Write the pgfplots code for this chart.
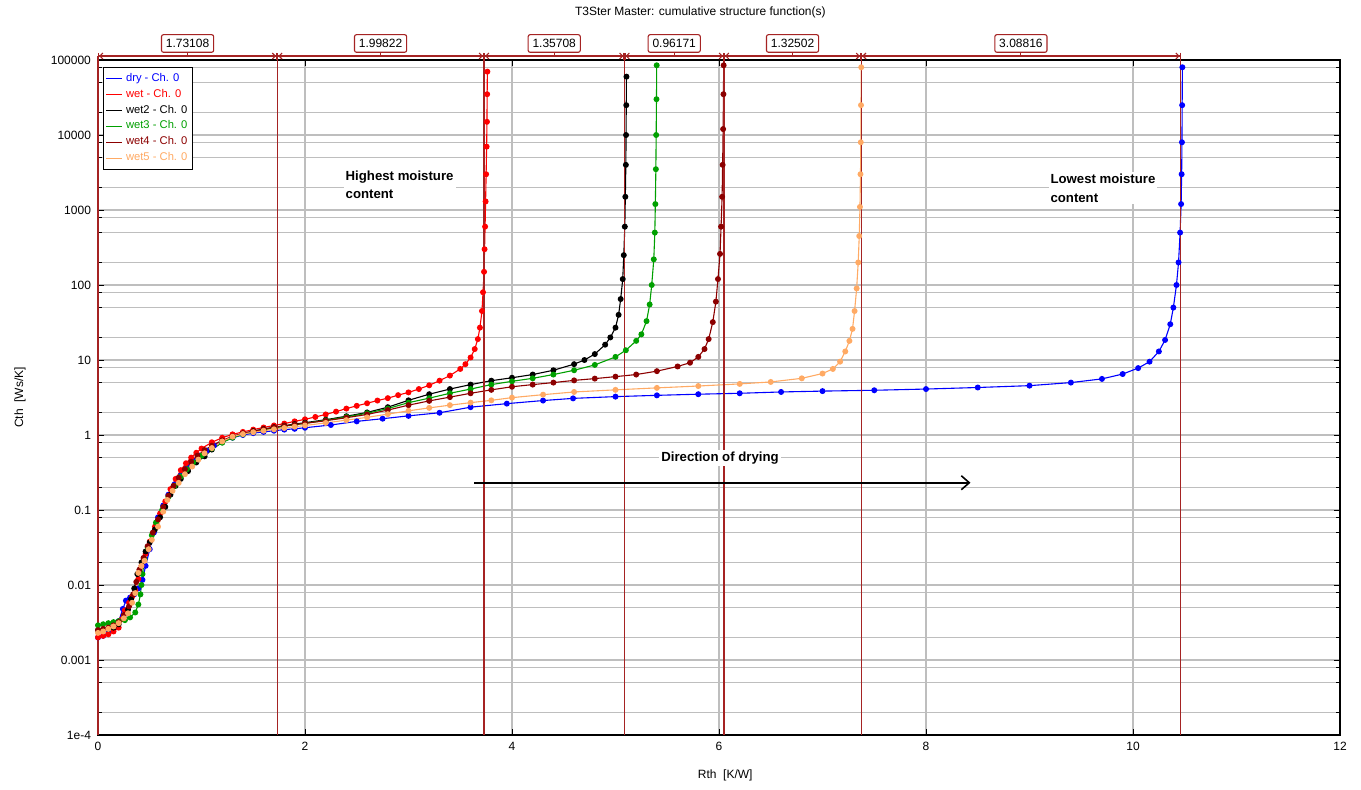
\documentclass[border=0pt]{standalone}
\usepackage{fontspec}
\setmainfont{Liberation Sans}
\usepackage{pgfplots}
\pgfplotsset{compat=1.18}
\usetikzlibrary{arrows.meta}
\definecolor{dimred}{RGB}{165,35,35}
\definecolor{gridgray}{RGB}{190,190,190}
\definecolor{cdry}{RGB}{0,0,255}
\definecolor{cwet}{RGB}{255,0,0}
\definecolor{cwettwo}{RGB}{0,0,0}
\definecolor{cwetthree}{RGB}{0,160,0}
\definecolor{cwetfour}{RGB}{140,0,0}
\definecolor{cwetfive}{RGB}{255,170,100}
\newcommand\fs{\fontsize{6}{7.2}\selectfont}
\newcommand\lfs{\fontsize{5.6}{6.5}\selectfont}
\newcommand\bfs{\bfseries\fontsize{6.6}{9.3}\selectfont}
\begin{document}
\begin{tikzpicture}
\useasboundingbox (-49pt,-27pt) rectangle (631.5pt,367.5pt);
\begin{axis}[
  at={(0pt,0pt)}, anchor=south west,
  scale only axis, width=621pt, height=337.5pt,
  xmin=0, xmax=12, ymode=log, ymin=1e-4, ymax=1e5,
  clip=false,
  /pgf/number format/assume math mode=true,
  xtick={0,2,4,6,8,10,12},
  ytick={1e-4,1e-3,0.01,0.1,1,10,100,1000,10000,100000},
  yticklabels={1e-4,0.001,0.01,0.1,1,10,100,1000,10000,100000},
  minor ytick={2e-4,5e-4,8e-4,2e-3,5e-3,8e-3,0.02,0.05,0.08,0.2,0.5,0.8,2,5,8,20,50,80,200,500,800,2000,5000,8000,20000,50000,80000},
  xmajorgrids, ymajorgrids, yminorgrids,
  major grid style={color=gridgray, line width=0.6pt},
  minor grid style={color=gridgray, line width=0.6pt},
  tick align=inside, major tick length=3pt, minor tick length=2pt,
  tick style={black, line width=0.5pt},
  axis line style={black, line width=0.6pt},
  tick label style={font=\fs},
  every axis title shift=0pt,
  title={T3Ster Master: cumulative structure function(s)},
  title style={at={(axis description cs:0.485,1.0711)}, anchor=center, font=\fs},
  xlabel={Rth\ \ [K/W]},
  xlabel style={at={(axis description cs:0.505,-0.0593)}, anchor=center, font=\fs},
  ylabel={Cth\ \ [Ws/K]},
  ylabel style={at={(axis description cs:-0.0628,0.5)}, anchor=center, font=\fs},
  legend style={at={(axis description cs:0.004,0.989)}, anchor=north west, draw=black, line width=0.5pt,
    font=\lfs, inner sep=1pt, row sep=-0.8pt, nodes={inner sep=1.6pt}, cells={anchor=west}},
  legend image code/.code={\draw[#1, mark=none, line width=0.7pt] (0pt,0pt) -- (8pt,0pt);},
  every axis plot/.append style={line width=0.55pt, mark=*, mark size=1.2pt},
]
% dry
\addplot[cdry, mark options={fill=cdry, draw=cdry}] coordinates {
(0,0.0020) (0.05,0.0021) (0.1,0.0023) (0.15,0.0026) (0.2,0.0033) (0.24,0.0048) (0.27,0.0062) (0.31,0.0068) (0.35,0.0075) (0.39,0.009) (0.43,0.0117) (0.46,0.018) (0.5,0.03) (0.54,0.05) (0.58,0.08) (0.63,0.115) (0.68,0.16) (0.74,0.22) (0.8,0.29) (0.86,0.37) (0.92,0.45) (0.98,0.53) (1.05,0.62) (1.12,0.72) (1.2,0.82) (1.3,0.92) (1.4,1.0) (1.5,1.06) (1.6,1.1) (1.7,1.14) (1.8,1.18) (1.9,1.21) (2.0,1.25) (2.25,1.36) (2.5,1.52) (2.75,1.65) (3.0,1.8) (3.3,1.98) (3.6,2.35) (3.95,2.62) (4.3,2.88) (4.59,3.08) (5.0,3.25) (5.4,3.38) (5.8,3.5) (6.2,3.6) (6.6,3.75) (7.0,3.85) (7.5,3.95) (8.0,4.1) (8.5,4.3) (9.0,4.55) (9.4,5.0) (9.7,5.6) (9.9,6.5) (10.05,7.8) (10.16,9.5) (10.25,13) (10.31,18.5) (10.36,30) (10.39,50) (10.42,100) (10.44,200) (10.455,500) (10.465,1200) (10.47,3000) (10.473,8000) (10.475,25000) (10.477,80000)};
\addlegendentry{\textcolor{cdry}{dry - Ch. 0}}
% wet
\addplot[cwet, mark options={fill=cwet, draw=cwet}] coordinates {
(0,0.0020) (0.05,0.0021) (0.1,0.0022) (0.15,0.0024) (0.2,0.0027) (0.23,0.0035) (0.26,0.0046) (0.3,0.0058) (0.33,0.007) (0.36,0.0085) (0.39,0.012) (0.42,0.018) (0.46,0.026) (0.5,0.038) (0.55,0.06) (0.6,0.09) (0.65,0.13) (0.7,0.19) (0.75,0.26) (0.8,0.34) (0.85,0.42) (0.9,0.5) (0.95,0.58) (1.0,0.66) (1.1,0.8) (1.2,0.92) (1.3,1.02) (1.4,1.1) (1.5,1.18) (1.6,1.26) (1.7,1.34) (1.8,1.42) (1.9,1.52) (2.0,1.62) (2.1,1.74) (2.2,1.88) (2.3,2.05) (2.4,2.25) (2.5,2.45) (2.6,2.65) (2.7,2.88) (2.8,3.1) (2.9,3.4) (3.0,3.7) (3.1,4.1) (3.2,4.6) (3.3,5.3) (3.4,6.2) (3.5,7.6) (3.55,8.8) (3.6,10.8) (3.64,14) (3.67,19) (3.69,27) (3.71,45) (3.72,80) (3.73,150) (3.735,300) (3.74,600) (3.745,1300) (3.75,3000) (3.755,7000) (3.758,15000) (3.76,35000) (3.762,70000)};
\addlegendentry{\textcolor{cwet}{wet - Ch. 0}}
% wet2
\addplot[cwettwo, mark options={fill=cwettwo, draw=cwettwo}] coordinates {
(0,0.0025) (0.05,0.0025) (0.1,0.0026) (0.15,0.0027) (0.2,0.003) (0.25,0.0036) (0.29,0.0047) (0.32,0.0065) (0.35,0.009) (0.38,0.014) (0.42,0.02) (0.46,0.028) (0.5,0.037) (0.55,0.055) (0.6,0.08) (0.65,0.11) (0.7,0.16) (0.75,0.21) (0.8,0.26) (0.87,0.33) (0.95,0.43) (1.03,0.52) (1.1,0.64) (1.2,0.8) (1.3,0.95) (1.4,1.05) (1.5,1.13) (1.6,1.2) (1.7,1.27) (1.8,1.33) (1.9,1.4) (2.0,1.46) (2.2,1.6) (2.4,1.78) (2.6,2.0) (2.8,2.35) (3.0,2.9) (3.2,3.5) (3.4,4.1) (3.6,4.7) (3.8,5.3) (4.0,5.8) (4.2,6.4) (4.4,7.3) (4.6,8.8) (4.7,10) (4.8,12) (4.9,16) (4.95,20) (5.0,27) (5.03,40) (5.05,65) (5.07,120) (5.08,250) (5.09,600) (5.095,1500) (5.1,4000) (5.102,10000) (5.104,25000) (5.106,60000)};
\addlegendentry{\textcolor{cwettwo}{wet2 - Ch. 0}}
% wet3
\addplot[cwetthree, mark options={fill=cwetthree, draw=cwetthree}] coordinates {
(0,0.0029) (0.05,0.003) (0.1,0.0031) (0.15,0.0032) (0.2,0.0033) (0.26,0.0034) (0.31,0.0037) (0.36,0.0043) (0.39,0.0055) (0.41,0.0075) (0.42,0.01) (0.43,0.014) (0.45,0.022) (0.48,0.032) (0.52,0.046) (0.56,0.068) (0.62,0.1) (0.68,0.15) (0.74,0.21) (0.8,0.28) (0.86,0.35) (0.92,0.43) (1.0,0.53) (1.1,0.66) (1.2,0.79) (1.3,0.92) (1.4,1.02) (1.5,1.1) (1.6,1.17) (1.7,1.24) (1.8,1.31) (1.9,1.37) (2.0,1.43) (2.2,1.57) (2.4,1.74) (2.6,1.95) (2.8,2.25) (3.0,2.7) (3.2,3.1) (3.4,3.6) (3.6,4.1) (3.8,4.7) (4.0,5.2) (4.2,5.7) (4.4,6.4) (4.6,7.3) (4.8,8.6) (5.0,11) (5.1,13.5) (5.2,18) (5.25,22) (5.3,33) (5.33,55) (5.35,100) (5.37,220) (5.38,500) (5.385,1200) (5.39,3500) (5.393,10000) (5.396,30000) (5.398,85000)};
\addlegendentry{\textcolor{cwetthree}{wet3 - Ch. 0}}
% wet4
\addplot[cwetfour, mark options={fill=cwetfour, draw=cwetfour}] coordinates {
(0,0.0025) (0.05,0.0026) (0.1,0.0027) (0.15,0.0029) (0.2,0.0032) (0.25,0.004) (0.3,0.0052) (0.34,0.0075) (0.37,0.011) (0.4,0.016) (0.44,0.023) (0.48,0.033) (0.53,0.05) (0.58,0.075) (0.63,0.11) (0.68,0.155) (0.73,0.21) (0.78,0.27) (0.84,0.35) (0.9,0.44) (0.96,0.53) (1.03,0.63) (1.1,0.72) (1.2,0.85) (1.3,0.96) (1.4,1.05) (1.5,1.12) (1.6,1.19) (1.7,1.26) (1.8,1.32) (1.9,1.38) (2.0,1.43) (2.2,1.55) (2.4,1.7) (2.6,1.88) (2.8,2.15) (3.0,2.5) (3.2,2.85) (3.4,3.2) (3.6,3.6) (3.8,4.0) (4.0,4.4) (4.2,4.7) (4.4,5.0) (4.6,5.35) (4.8,5.65) (5.0,6.0) (5.2,6.4) (5.4,7.1) (5.6,8.2) (5.72,9.2) (5.8,11) (5.86,14) (5.9,19) (5.94,32) (5.97,60) (5.99,120) (6.01,260) (6.02,600) (6.03,1500) (6.035,4000) (6.04,12000) (6.043,35000) (6.045,85000)};
\addlegendentry{\textcolor{cwetfour}{wet4 - Ch. 0}}
% wet5
\addplot[cwetfive, mark options={fill=cwetfive, draw=cwetfive}] coordinates {
(0,0.0023) (0.05,0.0024) (0.1,0.0026) (0.15,0.0028) (0.2,0.0031) (0.25,0.0036) (0.29,0.0042) (0.33,0.0058) (0.36,0.0078) (0.39,0.0145) (0.42,0.018) (0.45,0.021) (0.49,0.03) (0.52,0.04) (0.58,0.06) (0.63,0.095) (0.67,0.136) (0.72,0.18) (0.78,0.23) (0.84,0.3) (0.91,0.38) (0.97,0.47) (1.03,0.57) (1.1,0.67) (1.2,0.82) (1.3,0.95) (1.4,1.03) (1.5,1.09) (1.6,1.14) (1.7,1.19) (1.8,1.24) (1.9,1.29) (2.0,1.34) (2.2,1.45) (2.4,1.58) (2.6,1.72) (2.8,1.9) (3.0,2.1) (3.2,2.3) (3.4,2.5) (3.6,2.7) (3.8,2.9) (4.0,3.15) (4.3,3.45) (4.6,3.75) (5.0,4.0) (5.4,4.25) (5.8,4.5) (6.2,4.8) (6.5,5.1) (6.8,5.7) (7.0,6.6) (7.1,7.6) (7.17,9.5) (7.22,13) (7.26,18) (7.29,26) (7.31,45) (7.33,90) (7.345,200) (7.355,450) (7.362,1100) (7.367,3000) (7.37,8000) (7.372,25000) (7.374,80000)};
\addlegendentry{\textcolor{cwetfive}{wet5 - Ch. 0}}

% vertical marker lines
\draw[dimred, line width=0.6pt] (axis cs:0,1e-4) -- (axis cs:0,113000);
\draw[dimred, line width=0.6pt] (axis cs:1.73108,1e-4) -- (axis cs:1.73108,113000);
\draw[dimred, line width=0.6pt] (axis cs:3.7293,1e-4) -- (axis cs:3.7293,113000);
\draw[dimred, line width=0.6pt] (axis cs:5.08638,1e-4) -- (axis cs:5.08638,113000);
\draw[dimred, line width=0.6pt] (axis cs:6.04809,1e-4) -- (axis cs:6.04809,113000);
\draw[dimred, line width=0.6pt] (axis cs:7.37311,1e-4) -- (axis cs:7.37311,113000);
\draw[dimred, line width=0.6pt] (axis cs:10.46127,1e-4) -- (axis cs:10.46127,113000);

% dimension lines
\tikzset{dimline/.style={dimred, line width=0.55pt,
  {Bar[width=3.5pt]Straight Barb[length=1.5pt,width=3pt]}-{Straight Barb[length=1.5pt,width=3pt]Bar[width=3.5pt]}},
  dimbox/.style={draw=dimred, line width=0.55pt, fill=white, rounded corners=1pt, font=\fs,
  inner xsep=2.2pt, inner ysep=0pt, minimum height=8.8pt, anchor=south}}
\draw[dimline] (axis cs:0,113000) -- (axis cs:1.73108,113000);
\draw[dimline] (axis cs:1.73108,113000) -- (axis cs:3.7293,113000);
\draw[dimline] (axis cs:3.7293,113000) -- (axis cs:5.08638,113000);
\draw[dimline] (axis cs:5.08638,113000) -- (axis cs:6.04809,113000);
\draw[dimline] (axis cs:6.04809,113000) -- (axis cs:7.37311,113000);
\draw[dimline] (axis cs:7.37311,113000) -- (axis cs:10.46127,113000);
\draw[dimred, line width=0.55pt] (axis cs:0.86554,113000) -- ([yshift=1.6pt]axis cs:0.86554,113000);
\draw[dimred, line width=0.55pt] (axis cs:2.73019,113000) -- ([yshift=1.6pt]axis cs:2.73019,113000);
\draw[dimred, line width=0.55pt] (axis cs:4.40784,113000) -- ([yshift=1.6pt]axis cs:4.40784,113000);
\draw[dimred, line width=0.55pt] (axis cs:5.56724,113000) -- ([yshift=1.6pt]axis cs:5.56724,113000);
\draw[dimred, line width=0.55pt] (axis cs:6.71060,113000) -- ([yshift=1.6pt]axis cs:6.71060,113000);
\draw[dimred, line width=0.55pt] (axis cs:8.91719,113000) -- ([yshift=1.6pt]axis cs:8.91719,113000);
\node[dimbox] at ([yshift=1.6pt]axis cs:0.86554,113000) {1.73108};
\node[dimbox] at ([yshift=1.6pt]axis cs:2.73019,113000) {1.99822};
\node[dimbox] at ([yshift=1.6pt]axis cs:4.40784,113000) {1.35708};
\node[dimbox] at ([yshift=1.6pt]axis cs:5.56724,113000) {0.96171};
\node[dimbox] at ([yshift=1.6pt]axis cs:6.71060,113000) {1.32502};
\node[dimbox] at ([yshift=1.6pt]axis cs:8.91719,113000) {3.08816};

% annotations
\node[anchor=north west, align=left, font=\bfs, fill=white, inner sep=1pt] at (axis cs:2.37,3600) {Highest moisture\\content};
\node[anchor=north west, align=left, font=\bfs, fill=white, inner sep=1pt] at (axis cs:9.18,3250) {Lowest moisture\\content};
\node[anchor=center, font=\bfs, fill=white, inner sep=1pt] at (axis cs:6.01,0.49) {Direction of drying};
\draw[-{Straight Barb[length=4pt,width=7pt,line width=0.8pt]}, line width=0.85pt, black] (axis cs:3.633,0.231) -- (axis cs:8.43,0.231);
\end{axis}
\end{tikzpicture}
\end{document}
